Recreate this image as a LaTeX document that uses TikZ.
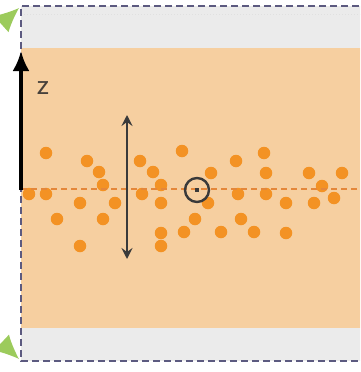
\documentclass[tikz,border=0pt]{standalone}
\usepackage{xcolor}
\usepackage{tikz}
\usetikzlibrary{arrows.meta}
\definecolor{slab}{HTML}{F6CFA0}
\definecolor{vacuum}{HTML}{EBEBEB}
\definecolor{atom}{HTML}{F39224}
\definecolor{midline}{HTML}{E4873A}
\definecolor{boxline}{HTML}{5C5A80}
\definecolor{periodic}{HTML}{9CCB5C}
\definecolor{ink}{HTML}{3A3A3A}
\tikzset{
    particle/.style={circle, fill=atom, inner sep=0pt, minimum size=12.5pt},
    simbox/.style={draw=boxline, line width=2.6pt, dash pattern=on 7pt off 4pt},
    zaxis/.style={-{Latex[length=20pt,width=17pt]}, line width=3.5pt, color=black},
    spread/.style={{Stealth[length=11pt,width=11pt,inset=4pt]}-{Stealth[length=11pt,width=11pt,inset=4pt]}, line width=1.8pt, color=ink},
    wrap/.style={-{Latex[length=24pt,width=22pt]}, line width=0.1pt, color=periodic, draw opacity=0}
}

\begin{document}
\begin{tikzpicture}[x=1pt,y=-1pt]

\useasboundingbox (0,0) rectangle (360,372);
\clip (0,0) rectangle (360,372);

% vacuum and slab
\fill[vacuum] (21,6) rectangle (370,48);
\fill[slab] (21,48) rectangle (370,328);
\fill[vacuum] (21,328) rectangle (370,361);
\draw[black!12, dotted, line width=1pt] (24,14) -- (370,14);

% atoms
\foreach \x/\y [count=\i] in {46/153, 87/161, 99/172, 103/185, 29/194, 46/194, 80/203, 115/203,
    57/219, 103/219, 80/246, 140/161, 153/172, 161/185, 142/194, 161/203, 161/233, 161/246,
    182/151, 236/161, 264/153, 211/173, 266/173, 309/173, 342/173, 322/186, 238/194, 266/194,
    208/203, 286/203, 314/203, 334/198, 195/219, 241/219, 184/232, 221/232, 254/232, 286/233}
    \node[particle] (a\i) at (\x,\y) {};

% centre plane
\coordinate (cl) at (21,189);
\coordinate (cr) at (365,189);
\draw[midline, line width=2pt, dash pattern=on 6pt off 4pt] (cl) -- (cr);

% simulation box
\draw[simbox] (370,6) -- (21,6) -- (21,361) -- (370,361);

% z axis
\coordinate (z0) at (21,190);
\coordinate (z1) at (21,51);
\draw[zaxis] (z0) -- (z1);
\node[text=ink!90!brown, font=\fontsize{30}{30}\selectfont\sffamily] (zlab) at (43,88) {z};

% thickness
\coordinate (t0) at (127,115);
\coordinate (t1) at (127,259);
\draw[spread] (t0) -- (t1);

% centre of mass
\node[circle, draw=ink, line width=2.4pt, minimum size=24pt, inner sep=0pt] (com) at (197,190) {};
\fill[ink] (com.center) ++(-2,-2) rectangle ++(4,4);

% periodic images
\coordinate (g0) at (-12,36);
\coordinate (g1) at (19,8);
\draw[wrap] (g0) -- (g1);
\coordinate (h0) at (-12,330);
\coordinate (h1) at (19,359);
\draw[wrap] (h0) -- (h1);

\end{tikzpicture}
\end{document}
